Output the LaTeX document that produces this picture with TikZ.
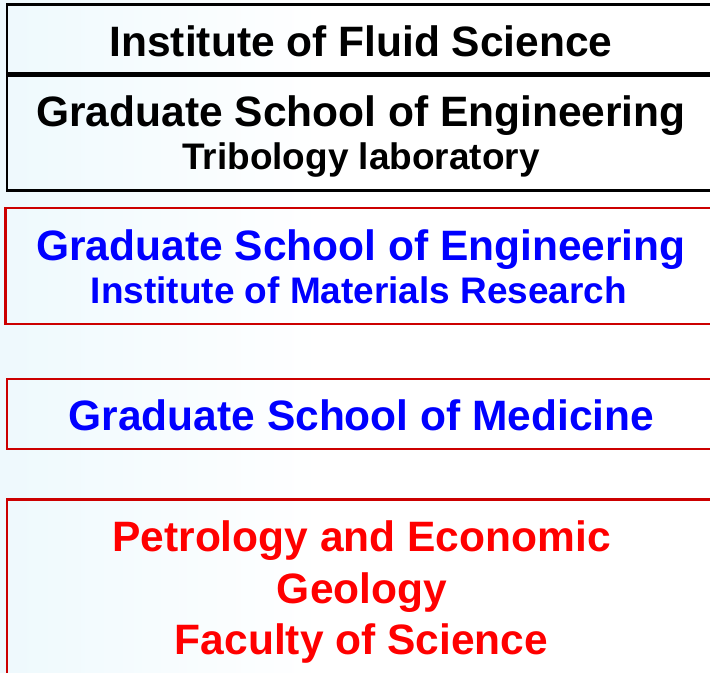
\documentclass[tikz,border=0pt]{standalone}
\usepackage{fontspec}
\setmainfont{Liberation Sans}
\definecolor{bgblue}{RGB}{238,249,253}
\definecolor{boxred}{RGB}{204,0,0}
\definecolor{txtblue}{RGB}{0,0,255}
\definecolor{txtred}{RGB}{255,0,0}
\begin{document}
\begin{tikzpicture}[x=1bp,y=-1bp,
  blackbox/.style={draw=black,line width=2.8bp},
  redbox/.style={draw=boxred,line width=2.5bp},
  big/.style={font=\fontsize{42.66}{48}\selectfont\bfseries, anchor=base, inner sep=0pt},
  small/.style={font=\fontsize{37.1}{44}\selectfont\bfseries, anchor=base, inner sep=0pt}]
\useasboundingbox (0,0) rectangle (710,673);
\clip (0,0) rectangle (710,673);
\fill[white] (0,0) rectangle (710,673);
\shade[left color=bgblue, right color=white] (0,0) rectangle (320,673);
% boxes
\draw[blackbox] (7,4.3) rectangle (730,73.8);
\draw[blackbox] (7,75.6) rectangle (730,190.5);
\draw[redbox] (5.5,208) rectangle (730,324);
\draw[redbox] (7,379) rectangle (730,449);
\draw[redbox] (7,499.5) rectangle (730,720);
% texts
\node[big] (t1) at (361,56.5) {Institute of Fluid Science};
\node[big] (t2) at (361,127) {Graduate School of Engineering};
\node[small] (t3) at (361,169.5) {Tribology laboratory};
\node[big,text=txtblue] (t4) at (361,260) {Graduate School of Engineering};
\node[small,text=txtblue] (t5) at (359,303.5) {Institute of Materials Research};
\node[big,text=txtblue] (t6) at (361.5,430) {Graduate School of Medicine};
\node[big,text=txtred] (t7) at (361.5,551.5) {Petrology and Economic};
\node[big,text=txtred] (t8) at (362,603) {Geology};
\node[big,text=txtred] (t9) at (361.5,654) {Faculty of Science};
\end{tikzpicture}
\end{document}
